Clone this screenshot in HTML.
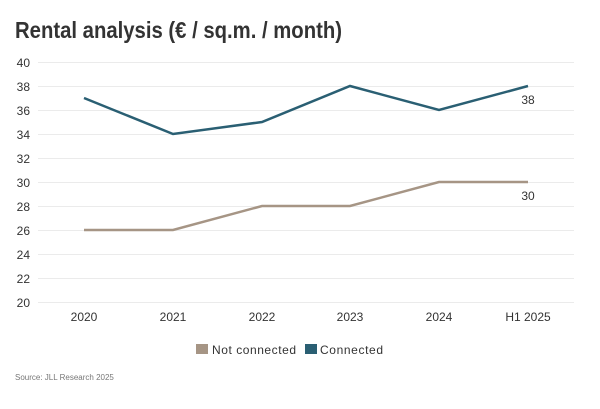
<!DOCTYPE html>
<html><head><meta charset="utf-8"><style>
body{margin:0;background:#fff;}
svg{display:block;font-family:"Liberation Sans",sans-serif;}
</style></head><body>
<svg width="600" height="409" viewBox="0 0 600 409">
<text x="15" y="38" font-size="23" font-weight="bold" fill="#333" textLength="327" lengthAdjust="spacingAndGlyphs">Rental analysis (€ / sq.m. / month)</text>
<g stroke="#ebebeb" stroke-width="1">
<line x1="38" x2="574" y1="62.5" y2="62.5"/><line x1="38" x2="574" y1="86.5" y2="86.5"/>
<line x1="38" x2="574" y1="110.5" y2="110.5"/><line x1="38" x2="574" y1="134.5" y2="134.5"/>
<line x1="38" x2="574" y1="158.5" y2="158.5"/><line x1="38" x2="574" y1="182.5" y2="182.5"/>
<line x1="38" x2="574" y1="206.5" y2="206.5"/><line x1="38" x2="574" y1="230.5" y2="230.5"/>
<line x1="38" x2="574" y1="254.5" y2="254.5"/><line x1="38" x2="574" y1="278.5" y2="278.5"/>
<line x1="38" x2="574" y1="302.5" y2="302.5"/>
</g>
<g font-size="12" fill="#333" text-anchor="end">
<text x="30" y="67">40</text><text x="30" y="91">38</text><text x="30" y="115">36</text>
<text x="30" y="139">34</text><text x="30" y="163">32</text><text x="30" y="187">30</text>
<text x="30" y="211">28</text><text x="30" y="235">26</text><text x="30" y="259">24</text>
<text x="30" y="283">22</text><text x="30" y="307">20</text>
</g>
<g font-size="12" fill="#333" text-anchor="middle">
<text x="84" y="321">2020</text><text x="173" y="321">2021</text><text x="262" y="321">2022</text>
<text x="350" y="321">2023</text><text x="439" y="321">2024</text><text x="528" y="321">H1 2025</text>
</g>
<polyline fill="none" stroke="#a69585" stroke-width="2.5" points="84,230 173,230 262,206 350,206 439,182 528,182"/>
<polyline fill="none" stroke="#2a5f73" stroke-width="2.5" points="84,98 173,134 262,122 350,86 439,110 528,86"/>
<text x="528" y="104" font-size="12" fill="#333" text-anchor="middle">38</text>
<text x="528" y="200" font-size="12" fill="#333" text-anchor="middle">30</text>
<rect x="196" y="344" width="12" height="10" fill="#a69585"/>
<text x="212" y="354" font-size="12" fill="#333" textLength="84">Not connected</text>
<rect x="305" y="344" width="12" height="10" fill="#2a5f73"/>
<text x="320" y="354" font-size="12" fill="#333" textLength="63">Connected</text>
<text x="15" y="380" font-size="8" fill="#777">Source: JLL Research 2025</text>
</svg>
</body></html>
